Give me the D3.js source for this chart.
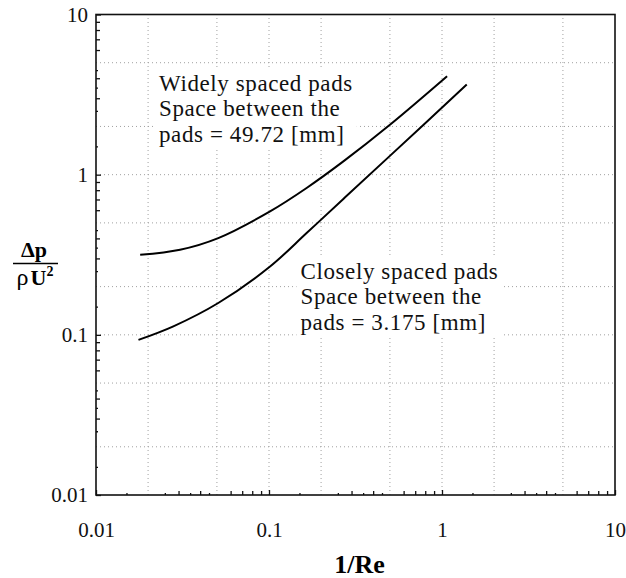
<!DOCTYPE html>
<html>
<head>
<meta charset="utf-8">
<script src="https://cdn.jsdelivr.net/npm/d3@7"></script>
<style>
  body { margin: 0; background: #fff; }
  svg { display: block; }
  .tick-label text { font-family: "Liberation Serif", serif; font-size: 21px; fill: #111; }
  .note { font-family: "Liberation Serif", serif; font-size: 23px; letter-spacing: 0.6px; fill: #111; }
</style>
</head>
<body>
<svg></svg>
<script>
const width = 626;
const height = 578;

// curve readings from the picture: 1/Re against dp/(rho U^2)
const wideX = [0.018, 0.0306, 0.0509, 0.1014, 0.165, 0.269, 0.50, 1.07];
const wideY = [0.316, 0.340, 0.402, 0.590, 0.826, 1.21, 2.05, 4.12];
const closeX = [0.0176, 0.028, 0.0509, 0.1014, 0.165, 0.269, 0.50, 1.39];
const closeY = [0.093, 0.113, 0.158, 0.267, 0.432, 0.705, 1.31, 3.65];

// axis ticks
const majorTicks = [0.01, 0.1, 1, 10];
const majorLabels = ["0.01", "0.1", "1", "10"];
const decades = [0.01, 0.1, 1];
const gridMult = [2, 5, 10];
const midMult = [3, 4, 6, 7, 8, 9];
const halfMult = [1.5, 2.5, 3.5, 4.5];

const wideNote = ["Widely spaced pads", "Space between the", "pads = 49.72 [mm]"];
const closeNote = ["Closely spaced pads", "Space between the", "pads = 3.175 [mm]"];

const margin = { top: 14.5, right: 11, bottom: 83, left: 96 };

const svg = d3.select("svg")
  .attr("width", width)
  .attr("height", height);

const x = d3.scaleLog()
  .domain([0.01, 10])
  .range([margin.left, width - margin.right]);

const y = d3.scaleLog()
  .domain([0.01, 10])
  .range([height - margin.bottom, margin.top]);

function expand(mults) {
  const out = [];
  decades.forEach(function(d) {
    mults.forEach(function(m) { out.push(d * m); });
  });
  return out;
}

const gridVals = expand(gridMult).filter(function(v) { return v < 10; });
const midVals = expand(midMult);
const halfVals = expand(halfMult);

// grid
const grid = svg.append("g")
  .attr("stroke", "#a0a0a0")
  .attr("stroke-width", 1)
  .attr("stroke-dasharray", "1,3");

grid.selectAll("line.gx")
  .data(gridVals)
  .join("line")
  .attr("class", "gx")
  .attr("x1", function(d) { return x(d); })
  .attr("x2", function(d) { return x(d); })
  .attr("y1", y.range()[0])
  .attr("y2", y.range()[1]);

grid.selectAll("line.gy")
  .data(gridVals)
  .join("line")
  .attr("class", "gy")
  .attr("y1", function(d) { return y(d); })
  .attr("y2", function(d) { return y(d); })
  .attr("x1", x.range()[0])
  .attr("x2", x.range()[1]);

// annotations with white boxes
function addNote(lines, left, top, step) {
  const g = svg.append("g");
  const t = g.append("text").attr("class", "note");
  lines.forEach(function(line, i) {
    t.append("tspan")
      .attr("x", left)
      .attr("y", top + i * step)
      .text(line);
  });
  const box = t.node().getBBox();
  g.insert("rect", "text")
    .attr("x", box.x - 4)
    .attr("y", box.y - 2)
    .attr("width", box.width + 8)
    .attr("height", box.height + 4)
    .attr("fill", "#fff");
}

addNote(wideNote, 159, 91, 25.3);
addNote(closeNote, 300.5, 278.5, 25.8);

// curves
const line = d3.line()
  .x(function(d) { return x(d[0]); })
  .y(function(d) { return y(d[1]); })
  .curve(d3.curveCatmullRom.alpha(0.5));

[[wideX, wideY], [closeX, closeY]].forEach(function(s) {
  const pts = s[0].map(function(v, i) { return [v, s[1][i]]; });
  svg.append("path")
    .datum(pts)
    .attr("d", line)
    .attr("fill", "none")
    .attr("stroke", "#000")
    .attr("stroke-width", 2);
});

// ticks (inward)
function tickSet(axisFn, scale, vals, size, pos) {
  const g = svg.append("g")
    .attr("transform", pos)
    .call(axisFn(scale).tickValues(vals).tickSize(size).tickFormat(""));
  g.select(".domain").remove();
  g.selectAll("line").attr("stroke", "#111").attr("stroke-width", 1.3);
}

const bottomPos = "translate(0," + y.range()[0] + ")";
const leftPos = "translate(" + x.range()[0] + ",0)";

tickSet(d3.axisBottom, x, majorTicks, -5, bottomPos);
tickSet(d3.axisBottom, x, midVals, -4, bottomPos);
tickSet(d3.axisBottom, x, halfVals, -2, bottomPos);
tickSet(d3.axisLeft, y, majorTicks, -5, leftPos);
tickSet(d3.axisLeft, y, midVals, -4, leftPos);
tickSet(d3.axisLeft, y, halfVals, -2, leftPos);

// tick labels
const fmt = function(d) { return majorLabels[majorTicks.indexOf(d)]; };

const xl = svg.append("g")
  .attr("class", "tick-label")
  .attr("transform", bottomPos)
  .call(d3.axisBottom(x).tickValues(majorTicks).tickSize(0).tickPadding(27).tickFormat(fmt));
xl.select(".domain").remove();
xl.attr("font-family", null).attr("font-size", null);

const yl = svg.append("g")
  .attr("class", "tick-label")
  .attr("transform", leftPos)
  .call(d3.axisLeft(y).tickValues(majorTicks).tickSize(0).tickPadding(8).tickFormat(fmt));
yl.select(".domain").remove();
yl.attr("font-family", null).attr("font-size", null);

// frame
svg.append("rect")
  .attr("x", x.range()[0])
  .attr("y", y.range()[1])
  .attr("width", x.range()[1] - x.range()[0])
  .attr("height", y.range()[0] - y.range()[1])
  .attr("fill", "none")
  .attr("stroke", "#111")
  .attr("stroke-width", 1.6);

// axis titles
svg.append("text")
  .attr("x", (x.range()[0] + x.range()[1]) / 2 + 4)
  .attr("y", 573)
  .attr("text-anchor", "middle")
  .attr("font-family", "Liberation Serif, serif")
  .attr("font-weight", "bold")
  .attr("font-size", 26)
  .text("1/Re");

const yt = svg.append("g")
  .attr("font-family", "Liberation Serif, serif")
  .attr("font-weight", "bold")
  .attr("font-size", 22)
  .attr("text-anchor", "middle");

yt.append("text")
  .attr("x", 34)
  .attr("y", 256.5)
  .text("\u0394p");

yt.append("line")
  .attr("x1", 13)
  .attr("x2", 58)
  .attr("y1", 263.5)
  .attr("y2", 263.5)
  .attr("stroke", "#000")
  .attr("stroke-width", 1.5);

const den = yt.append("text")
  .attr("x", 35)
  .attr("y", 285);
den.append("tspan").attr("font-size", 24).attr("font-weight", "normal").text("\u03c1");
den.append("tspan").attr("dx", 2).text("U");
den.append("tspan").attr("font-size", 14).attr("dy", -9).text("2");
</script>
</body>
</html>
